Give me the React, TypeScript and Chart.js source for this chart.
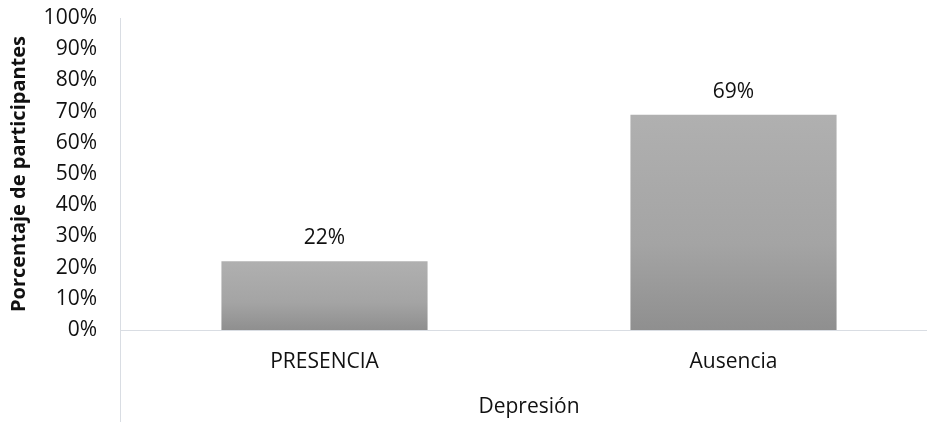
import React, { useEffect, useRef } from "react";
import { Chart, registerables } from "chart.js";

Chart.register(...registerables);

const categories = ["PRESENCIA", "Ausencia"];
const values = [22, 69];
const yTicks = [0, 10, 20, 30, 40, 50, 60, 70, 80, 90, 100];
const yTitle = "Porcentaje de participantes";
const xTitle = "Depresión";

const FONT = "'Open Sans', sans-serif";
const AXIS_COLOR = "#d9dde3";
const TEXT_COLOR = "#111111";

export default function App() {
  const ref = useRef<HTMLCanvasElement | null>(null);

  useEffect(() => {
    if (!ref.current) return;
    const labelPlugin = {
      id: "barLabels",
      afterDatasetsDraw(chart: any) {
        const ctx = chart.ctx;
        const meta = chart.getDatasetMeta(0);
        ctx.save();
        ctx.font = `21px ${FONT}`;
        ctx.fillStyle = TEXT_COLOR;
        ctx.textAlign = "center";
        ctx.textBaseline = "middle";
        meta.data.forEach((bar: any, i: number) => {
          ctx.fillText(values[i] + "%", bar.x, bar.y - 23);
        });
        ctx.restore();
      },
      beforeDatasetsDraw(chart: any) {
        const ctx = chart.ctx;
        const a = chart.chartArea;
        ctx.save();
        ctx.strokeStyle = AXIS_COLOR;
        ctx.lineWidth = 1;
        ctx.beginPath();
        ctx.moveTo(Math.round(a.left) + 0.5, a.top);
        ctx.lineTo(Math.round(a.left) + 0.5, chart.height);
        ctx.moveTo(a.left, Math.round(a.bottom) + 0.5);
        ctx.lineTo(chart.width, Math.round(a.bottom) + 0.5);
        ctx.stroke();
        ctx.restore();
      },
    };

    const chart = new Chart(ref.current, {
      type: "bar",
      data: {
        labels: categories,
        datasets: [
          {
            data: values,
            backgroundColor: (c: any) => {
              const ch = c.chart;
              const ys = ch.scales && ch.scales.y;
              if (!ys || c.parsed == null || c.parsed.y == null) return "#a5a5a5";
              const top = ys.getPixelForValue(c.parsed.y);
              const bottom = ys.getPixelForValue(0);
              if (!isFinite(top) || !isFinite(bottom) || top === bottom) return "#a5a5a5";
              const g = ch.ctx.createLinearGradient(0, top, 0, bottom);
              g.addColorStop(0, "#b0b0b0");
              g.addColorStop(0.6, "#a4a4a4");
              g.addColorStop(1, "#8f8f8f");
              return g;
            },
            borderWidth: 0,
            categoryPercentage: 1,
            barPercentage: 0.504,
          },
        ],
      },
      options: {
        animation: false,
        responsive: false,
        maintainAspectRatio: false,
        layout: { padding: { top: 18, left: 0, right: 0, bottom: 0 } },
        plugins: {
          legend: { display: false },
          tooltip: { enabled: false },
        },
        scales: {
          x: {
            type: "category",
            offset: true,
            grid: { display: false, drawTicks: false },
            border: { display: false },
            ticks: {
              color: TEXT_COLOR,
              font: { family: FONT, size: 21 },
              padding: 19,
              maxRotation: 0,
            },
            title: {
              display: true,
              text: xTitle,
              color: TEXT_COLOR,
              font: { family: FONT, size: 21 },
              padding: { top: 0, bottom: 2 },
            },
            afterFit: (s: any) => {
              s.height = 92;
              s.paddingLeft = 0;
              s.paddingRight = 0;
            },
          },
          y: {
            min: 0,
            max: 100,
            afterBuildTicks: (s: any) => {
              s.ticks = yTicks.map((v) => ({ value: v }));
            },
            grid: { display: false, drawTicks: false },
            border: { display: true, color: AXIS_COLOR },
            ticks: {
              color: TEXT_COLOR,
              font: { family: FONT, size: 21 },
              padding: 23,
              callback: (v: any) => v + "%",
            },
            title: {
              display: true,
              text: yTitle,
              color: TEXT_COLOR,
              font: { family: FONT, size: 20, weight: "bold" },
              padding: { top: 7, bottom: 0 },
            },
            afterFit: (s: any) => {
              s.width = 120;
              s.paddingTop = 0;
              s.paddingBottom = 0;
            },
          },
        },
      },
      plugins: [labelPlugin],
    } as any);
    return () => chart.destroy();
  }, []);

  return (
    <div
      style={{
        position: "fixed",
        left: 0,
        top: 0,
        width: 927,
        height: 422,
        overflow: "hidden",
        background: "#fff",
      }}
    >
      <canvas ref={ref} width={938} height={422} style={{ width: 938, height: 422, display: "block" }} />
    </div>
  );
}
